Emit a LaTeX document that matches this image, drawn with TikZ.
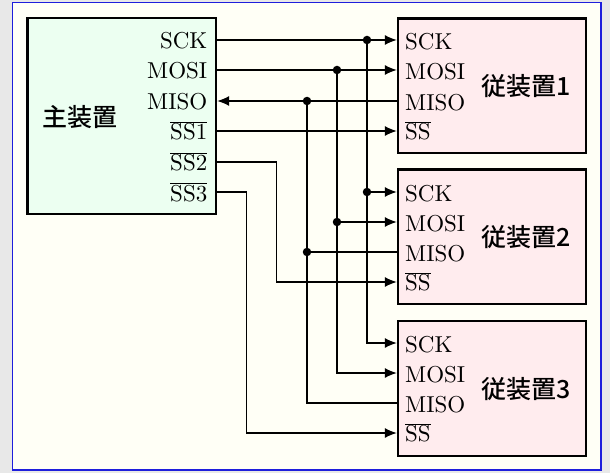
\documentclass[tikz,border=0pt]{standalone}
\usepackage{fontspec}
\usepackage{xcolor}
\usepackage{tikz}
\usetikzlibrary{arrows.meta}
\setmainfont{lmroman10-regular.otf}
\newfontfamily\jpfont{Noto Sans CJK JP}[UprightFont={* Medium}]
\definecolor{outerbg}{RGB}{232,232,232}
\definecolor{framebg}{RGB}{255,255,246}
\definecolor{frameblue}{RGB}{30,30,220}
\definecolor{masterfill}{RGB}{236,255,241}
\definecolor{slavefill}{RGB}{255,236,238}
\newcommand{\ovl}[1]{$\overline{\hbox{#1}}$}

\begin{document}
\begin{tikzpicture}[x=1pt, y=-1pt, >={Latex[length=12pt,width=10pt]},
    pin/.style={font=\fontsize{23}{27}\selectfont, inner sep=0pt},
    devname/.style={font=\jpfont\fontsize{25}{30}\selectfont, inner sep=0pt},
    devbox/.style={draw, line width=2.4pt, inner sep=0pt},
    wire/.style={line width=1.2pt},
    joint/.style={circle, fill, inner sep=0pt, minimum size=8.5pt}]
        \useasboundingbox (0,0) rectangle (610,473);
        \fill[outerbg] (0,0) rectangle (610,473);
        \draw[frameblue, line width=1.8pt, fill=framebg] (12.5,2.5) rectangle (601,470);

        % master
        \node[devbox, fill=masterfill, minimum width=188.5pt, minimum height=196pt] (m) at (121.75,116) {};
        \node[devname] (mname) at (80,117) {主装置};
        \node[pin, anchor=base east] (m-sck-l) at (207.5,49) {SCK};
        \node[pin, anchor=base east] (m-mosi-l) at (207.5,79) {MOSI};
        \node[pin, anchor=base east] (m-miso-l) at (207.5,110) {MISO};
        \node[pin, anchor=base east] (m-ss1-l) at (207.5,140) {\ovl{SS1}};
        \node[pin, anchor=base east] (m-ss2-l) at (207.5,171) {\ovl{SS2}};
        \node[pin, anchor=base east] (m-ss3-l) at (207.5,201) {\ovl{SS3}};
        \coordinate (m-sck) at (217.2,40);
        \coordinate (m-mosi) at (217.2,70);
        \coordinate (m-miso) at (217.2,101);
        \coordinate (m-ss1) at (217.2,131);
        \coordinate (m-ss2) at (217.2,162);
        \coordinate (m-ss3) at (217.2,192);

        % slaves
        \node[devbox, fill=slavefill, minimum width=188pt, minimum height=134.5pt] (s1) at (492,85.75) {};
        \node[devbox, fill=slavefill, minimum width=188pt, minimum height=134.5pt] (s2) at (492,236.8) {};
        \node[devbox, fill=slavefill, minimum width=188pt, minimum height=135pt] (s3) at (492,388.2) {};
        \node[devname] (s1name) at (526,86) {従装置1};
        \node[devname] (s2name) at (526,237) {従装置2};
        \node[devname] (s3name) at (526,389) {従装置3};
        \foreach \s/\ya/\yb/\yc/\yd in {1/40/70/101/131, 2/192/222/252/282, 3/343/373/403/433}{
            \node[pin, anchor=base west] (s\s-sck-l) at (405,\ya+9.5) {SCK};
            \node[pin, anchor=base west] (s\s-mosi-l) at (405,\yb+9.5) {MOSI};
            \node[pin, anchor=base west] (s\s-miso-l) at (405,\yc+9.5) {MISO};
            \node[pin, anchor=base west] (s\s-ss-l) at (405,\yd+8.5) {\ovl{SS}};
            \coordinate (s\s-sck) at (396.8,\ya);
            \coordinate (s\s-mosi) at (396.8,\yb);
            \coordinate (s\s-miso) at (396.8,\yc);
            \coordinate (s\s-ss) at (396.8,\yd);
        }

        % bus joints
        \node[joint] (sck1) at (367,40) {};
        \node[joint] (sck2) at (367,192) {};
        \node[joint] (mosi1) at (337,70) {};
        \node[joint] (mosi2) at (337,222) {};
        \node[joint] (miso1) at (307,101) {};
        \node[joint] (miso2) at (307,252) {};

        \draw[wire, ->] (m-sck) -- (s1-sck);
        \draw[wire, ->] (sck1) |- (s3-sck);
        \draw[wire, ->] (sck2) -- (s2-sck);
        \draw[wire, ->] (m-mosi) -- (s1-mosi);
        \draw[wire, ->] (mosi1) |- (s3-mosi);
        \draw[wire, ->] (mosi2) -- (s2-mosi);
        \draw[wire, ->] (s1-miso) -- (m-miso);
        \draw[wire] (miso1) |- (s3-miso);
        \draw[wire] (miso2) -- (s2-miso);
        \draw[wire, ->] (m-ss1) -- (s1-ss);
        \draw[wire, ->] (m-ss2) -- ++(59.5,0) |- (s2-ss);
        \draw[wire, ->] (m-ss3) -- ++(29,0) |- (s3-ss);
\end{tikzpicture}
\end{document}
